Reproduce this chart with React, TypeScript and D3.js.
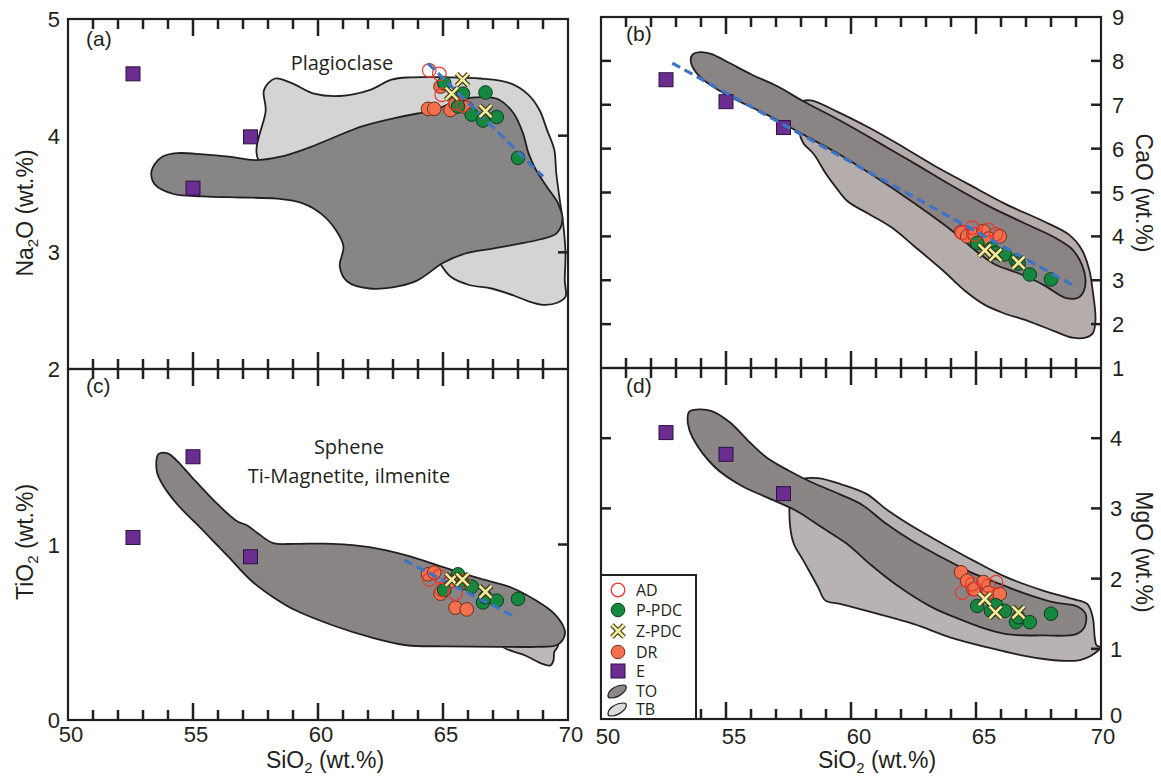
import React from 'react';
import * as d3 from 'd3';

type Pt = [number, number];

// ---------- Sample data (SiO2 vs oxides, wt.%) ----------
// E
const eSiO2 = [52.6, 55.0, 57.3];
const eNa2O = [4.53, 3.55, 3.99];
const eCaO = [7.57, 7.07, 6.48];
const eTiO2 = [1.04, 1.5, 0.93];
const eMgO = [4.08, 3.77, 3.21];
// P-PDC
const pSiO2 = [65.05, 65.6, 65.8, 66.15, 66.6, 66.7, 67.15, 68.0];
const pNa2O = [4.45, 4.25, 4.36, 4.18, 4.13, 4.37, 4.16, 3.81];
const pCaO = [3.85, 3.72, 3.62, 3.59, 3.45, 3.38, 3.13, 3.02];
const pTiO2 = [0.74, 0.83, 0.78, 0.76, 0.67, 0.7, 0.68, 0.69];
const pMgO = [1.61, 1.54, 1.62, 1.54, 1.38, 1.45, 1.38, 1.5];
// DR
const drSiO2 = [64.4, 64.65, 64.9, 65.3, 65.5, 65.95];
const drNa2O = [4.23, 4.23, 4.42, 4.22, 4.27, 4.24];
const drCaO = [4.1, 4.0, 4.05, 4.12, 3.95, 4.0];
const drTiO2 = [0.83, 0.84, 0.72, 0.79, 0.64, 0.63];
const drMgO = [2.09, 1.97, 1.85, 1.95, 1.8, 1.78];
// AD
const adSiO2 = [64.45, 64.85, 64.95, 65.5, 65.8];
const adNa2O = [4.56, 4.53, 4.35, 4.28, 4.26];
const adCaO = [4.08, 4.2, 4.05, 4.15, 4.05];
const adTiO2 = [0.8, 0.82, 0.74, 0.72, 0.79];
const adMgO = [1.8, 1.92, 1.85, 1.9, 1.95];
// Z-PDC
const zSiO2 = [65.35, 65.78, 66.7];
const zNa2O = [4.36, 4.48, 4.21];
const zCaO = [3.68, 3.58, 3.4];
const zTiO2 = [0.8, 0.8, 0.73];
const zMgO = [1.71, 1.52, 1.52];

// trend lines
const trendNa2O: Pt[] = [[64.4, 4.62], [69.0, 3.65]];
const trendCaO: Pt[] = [[52.85, 7.95], [69.0, 2.85]];
const trendTiO2: Pt[] = [[63.45, 0.91], [67.85, 0.59]];

// ---------- TO / TB fields ----------
const tbNa2O: Pt[] = [
  [57.62, 3.79], [57.91, 4.22], [57.84, 4.39], [58.28, 4.49], [58.95, 4.45], [59.84, 4.36],
  [60.87, 4.34], [62.06, 4.39], [62.94, 4.48], [63.68, 4.5], [65.01, 4.5], [66.49, 4.49],
  [67.68, 4.45], [68.42, 4.35], [68.86, 4.22], [69.16, 4.05], [69.45, 3.88], [69.53, 3.68],
  [69.67, 3.45], [69.82, 3.22], [69.9, 2.99], [69.87, 2.76], [69.9, 2.62], [69.6, 2.57],
  [69.01, 2.55], [68.42, 2.58], [67.83, 2.63], [66.94, 2.69], [66.05, 2.72], [65.31, 2.79],
  [64.87, 2.91], [64.64, 3.02], [64.0, 3.25], [60.5, 3.55]
];
const toNa2O: Pt[] = [
  [53.33, 3.68], [53.48, 3.76], [53.77, 3.82], [54.36, 3.85], [55.4, 3.84], [56.43, 3.82],
  [57.47, 3.79], [58.51, 3.82], [59.54, 3.89], [60.58, 3.98], [61.76, 4.08], [63.06, 4.15],
  [63.98, 4.19], [64.57, 4.21], [65.01, 4.25], [65.75, 4.31], [66.64, 4.33], [67.23, 4.31],
  [67.83, 4.19], [68.2, 4.02], [68.42, 3.85], [68.71, 3.71], [69.16, 3.56], [69.6, 3.42],
  [69.78, 3.28], [69.53, 3.16], [68.86, 3.11], [67.97, 3.07], [66.94, 3.03], [65.9, 2.99],
  [65.01, 2.91], [63.98, 2.76], [63.24, 2.71], [62.06, 2.69], [61.17, 2.75], [60.87, 2.88],
  [61.02, 3.05], [60.72, 3.19], [60.13, 3.33], [59.39, 3.42], [58.36, 3.46], [56.88, 3.47],
  [55.4, 3.48], [54.22, 3.5], [53.48, 3.58]
];
const tbCaO: Pt[] = [
  [57.94, 7.04], [58.38, 7.1], [59.42, 6.85], [60.75, 6.47], [61.93, 6.09], [63.25, 5.64],
  [64.73, 5.18], [66.21, 4.73], [67.68, 4.35], [68.72, 4.04], [69.23, 3.7], [69.53, 3.24],
  [69.68, 2.71], [69.78, 2.11], [69.68, 1.8], [69.38, 1.69], [68.86, 1.69], [68.13, 1.84],
  [67.09, 2.07], [66.06, 2.26], [65.32, 2.45], [64.58, 2.75], [63.7, 3.21], [62.52, 3.78],
  [61.63, 4.2], [60.75, 4.5], [59.86, 4.8], [59.42, 5.1], [58.97, 5.45], [58.53, 5.86],
  [58.09, 6.13], [57.94, 6.35], [57.87, 6.89]
];
const toCaO: Pt[] = [
  [53.59, 7.99], [53.66, 8.14], [53.96, 8.2], [54.4, 8.16], [55.14, 7.95], [56.02, 7.69],
  [57.06, 7.42], [58.09, 7.08], [59.56, 6.64], [61.04, 6.16], [62.52, 5.67], [63.99, 5.17],
  [65.47, 4.7], [66.94, 4.3], [68.13, 3.98], [68.86, 3.7], [69.23, 3.36], [69.38, 3.02],
  [69.31, 2.75], [69.08, 2.6], [68.57, 2.6], [67.68, 2.9], [66.65, 3.17], [65.76, 3.36],
  [65.1, 3.62], [63.99, 4.15], [62.52, 4.76], [61.04, 5.33], [59.56, 5.86], [58.09, 6.32],
  [56.61, 6.78], [55.14, 7.19], [54.25, 7.5], [53.81, 7.73]
];
const tbTiO2: Pt[] = [
  [67.38, 0.42], [68.27, 0.369], [69.01, 0.318], [69.3, 0.311], [69.42, 0.341], [69.45, 0.388],
  [69.6, 0.426], [68.71, 0.511], [67.97, 0.473]
];
const toTiO2: Pt[] = [
  [53.62, 1.515], [53.99, 1.519], [54.36, 1.477], [54.96, 1.383], [55.84, 1.25], [56.73, 1.136],
  [57.17, 1.108], [57.62, 1.061], [58.21, 1.008], [59.1, 1.004], [60.58, 1.004], [62.06, 0.985],
  [63.54, 0.938], [65.01, 0.871], [66.49, 0.805], [67.68, 0.758], [68.71, 0.682], [69.45, 0.606],
  [69.87, 0.511], [69.82, 0.464], [69.53, 0.426], [68.71, 0.417], [67.23, 0.417], [65.01, 0.42],
  [63.54, 0.426], [62.06, 0.473], [60.58, 0.54], [59.1, 0.625], [58.21, 0.7], [57.32, 0.795],
  [56.43, 0.928], [55.4, 1.08], [54.36, 1.231], [53.77, 1.345], [53.55, 1.42]
];
const tbMgO: Pt[] = [
  [57.57, 3.14], [57.72, 3.33], [58.09, 3.42], [58.68, 3.43], [59.56, 3.35], [60.6, 3.21],
  [61.48, 2.97], [62.52, 2.73], [63.7, 2.49], [64.88, 2.26], [66.21, 2.02], [67.68, 1.83],
  [68.86, 1.71], [69.45, 1.64], [69.67, 1.45], [69.75, 1.16], [69.82, 1.05], [69.97, 1.02],
  [69.6, 0.9], [69.16, 0.84], [68.42, 0.83], [66.94, 0.9], [65.47, 1.02], [63.99, 1.16],
  [62.52, 1.35], [61.04, 1.5], [59.56, 1.64], [58.97, 1.69], [58.68, 1.88], [58.09, 2.26],
  [57.72, 2.49], [57.57, 2.73]
];
const toMgO: Pt[] = [
  [53.51, 4.37], [53.66, 4.4], [54.4, 4.39], [55.14, 4.23], [55.87, 3.97], [56.61, 3.73],
  [57.5, 3.54], [58.38, 3.38], [59.56, 3.2], [60.45, 3.05], [61.34, 2.8], [62.52, 2.52],
  [63.7, 2.29], [64.73, 2.1], [65.76, 1.95], [66.94, 1.79], [68.13, 1.66], [69.01, 1.61],
  [69.38, 1.5], [69.34, 1.31], [69.01, 1.21], [67.68, 1.19], [66.21, 1.21], [65.17, 1.31],
  [64.29, 1.43], [63.25, 1.59], [61.78, 1.92], [60.75, 2.21], [59.86, 2.49], [58.83, 2.73],
  [57.79, 2.97], [56.61, 3.16], [55.58, 3.33], [54.55, 3.59], [53.66, 4.01], [53.48, 4.2]
];

const xMajorLabels = [50, 55, 60, 65, 70];
const xTickValues = [51, 52, 53, 54, 55, 56, 57, 58, 59, 60, 61, 62, 63, 64, 65, 66, 67, 68, 69];

// ---------- styles ----------
const W = 1161;
const H = 782;
const NUM_FONT = "'Liberation Sans', Arial, Helvetica, sans-serif";
const TXT_FONT = "'Open Sans', 'Noto Sans', sans-serif";
const INK = '#231f20';
const C_GREEN = '#15873f';
const C_GREEN_S = '#0c3d1d';
const C_ORANGE = '#f3704f';
const C_ORANGE_S = '#6e2c1c';
const C_PURPLE = '#6b2d8f';
const C_PURPLE_S = '#2b1240';
const C_AD = '#e8382f';
const C_Z = '#f4ee98';
const C_Z_S = '#3d3a26';
const C_TREND = '#3d74c6';

interface PanelCfg {
  key: string;
  x0: number; x1: number; yTop: number; yBot: number; yDomain: [number, number];
  toFill: string; tbFill: string; to: Pt[]; tb: Pt[];
  e: number[]; p: number[]; dr: number[]; ad: number[]; z: number[];
  trend?: Pt[];
  label: string; labelX: number; labelY: number;
  yTicks: number[]; leftTicks: boolean;
}

const panels: PanelCfg[] = [
  {
    key: 'a', x0: 68, x1: 568, yTop: 19, yBot: 369, yDomain: [2, 5],
    toFill: '#878585', tbFill: '#d4d4d4', to: toNa2O, tb: tbNa2O,
    e: eNa2O, p: pNa2O, dr: drNa2O, ad: adNa2O, z: zNa2O, trend: trendNa2O,
    label: '(a)', labelX: 86, labelY: 46, yTicks: [3, 4], leftTicks: false,
  },
  {
    key: 'b', x0: 601, x1: 1101, yTop: 17, yBot: 368, yDomain: [1, 9],
    toFill: '#8b8484', tbFill: '#b5adac', to: toCaO, tb: tbCaO,
    e: eCaO, p: pCaO, dr: drCaO, ad: adCaO, z: zCaO, trend: trendCaO,
    label: '(b)', labelX: 626, labelY: 41, yTicks: [2, 3, 4, 5, 6, 7, 8], leftTicks: true,
  },
  {
    key: 'c', x0: 68, x1: 568, yTop: 369, yBot: 720, yDomain: [0, 2],
    toFill: '#8a8585', tbFill: '#bdb8b8', to: toTiO2, tb: tbTiO2,
    e: eTiO2, p: pTiO2, dr: drTiO2, ad: adTiO2, z: zTiO2, trend: trendTiO2,
    label: '(c)', labelX: 86, labelY: 393, yTicks: [1], leftTicks: false,
  },
  {
    key: 'd', x0: 601, x1: 1101, yTop: 368, yBot: 719, yDomain: [0, 5],
    toFill: '#8b8686', tbFill: '#b9b2b2', to: toMgO, tb: tbMgO,
    e: eMgO, p: pMgO, dr: drMgO, ad: adMgO, z: zMgO,
    label: '(d)', labelX: 626, labelY: 393, yTicks: [1, 2, 3, 4], leftTicks: true,
  },
];

function XMark({ x, y, s = 6 }: { x: number; y: number; s?: number }) {
  const d = `M${x - s},${y - s}L${x + s},${y + s}M${x - s},${y + s}L${x + s},${y - s}`;
  return (
    <g>
      <path d={d} stroke={C_Z_S} strokeWidth={5} strokeLinecap="butt" fill="none" />
      <path d={d} stroke={C_Z} strokeWidth={2.6} strokeLinecap="butt" fill="none" />
    </g>
  );
}

function Panel({ cfg }: { cfg: PanelCfg }) {
  const xs = d3.scaleLinear().domain([50, 70]).range([cfg.x0, cfg.x1]);
  const ys = d3.scaleLinear().domain(cfg.yDomain).range([cfg.yBot, cfg.yTop]);
  const field = d3
    .line<Pt>()
    .x((d) => xs(d[0]))
    .y((d) => ys(d[1]))
    .curve(d3.curveCatmullRomClosed.alpha(0.5));
  const straight = d3
    .line<Pt>()
    .x((d) => xs(d[0]))
    .y((d) => ys(d[1]));

  return (
    <g>
      <path d={field(cfg.tb) || ''} fill={cfg.tbFill} stroke={INK} strokeWidth={1.8} />
      <path d={field(cfg.to) || ''} fill={cfg.toFill} stroke={INK} strokeWidth={1.8} />
      {cfg.e.map((v, i) => (
        <rect key={'e' + i} x={xs(eSiO2[i]) - 7} y={ys(v) - 7} width={14} height={14}
          fill={C_PURPLE} stroke={C_PURPLE_S} strokeWidth={1} />
      ))}
      {cfg.dr.map((v, i) => (
        <circle key={'dr' + i} cx={xs(drSiO2[i])} cy={ys(v)} r={6.8}
          fill={C_ORANGE} stroke={C_ORANGE_S} strokeWidth={1} />
      ))}
      {cfg.p.map((v, i) => (
        <circle key={'p' + i} cx={xs(pSiO2[i])} cy={ys(v)} r={6.8}
          fill={C_GREEN} stroke={C_GREEN_S} strokeWidth={1} />
      ))}
      {cfg.ad.map((v, i) => (
        <circle key={'ad' + i} cx={xs(adSiO2[i])} cy={ys(v)} r={6.8}
          fill="none" stroke={C_AD} strokeWidth={1.2} />
      ))}
      {cfg.trend && (
        <path d={straight(cfg.trend) || ''} stroke={C_TREND} strokeWidth={3.2}
          strokeDasharray="9,5" fill="none" />
      )}
      {cfg.z.map((v, i) => (
        <XMark key={'z' + i} x={xs(zSiO2[i])} y={ys(v)} />
      ))}
      <rect x={cfg.x0} y={cfg.yTop} width={cfg.x1 - cfg.x0} height={cfg.yBot - cfg.yTop}
        fill="none" stroke={INK} strokeWidth={2.2} />
      {xTickValues.map((v) => {
        const len = v % 5 === 0 ? 17 : 10;
        const x = xs(v);
        return (
          <React.Fragment key={'xt' + v}>
            <rect x={x - 1.25} y={cfg.yTop} width={2.5} height={len} fill={INK} />
            <rect x={x - 1.25} y={cfg.yBot - len} width={2.5} height={len} fill={INK} />
          </React.Fragment>
        );
      })}
      {cfg.yTicks.map((v) => {
        const y = ys(v);
        return (
          <React.Fragment key={'yt' + v}>
            <rect x={cfg.x1 - 10} y={y - 1.25} width={10} height={2.5} fill={INK} />
            {cfg.leftTicks && <rect x={cfg.x0} y={y - 1.25} width={10} height={2.5} fill={INK} />}
          </React.Fragment>
        );
      })}
      <text x={cfg.labelX} y={cfg.labelY} fontFamily={NUM_FONT} fontSize={21} fill={INK}>
        {cfg.label}
      </text>
    </g>
  );
}

export default function App() {
  const pa = panels[0];
  const pb = panels[1];
  const pc = panels[2];
  const pd = panels[3];
  const ysA = d3.scaleLinear().domain(pa.yDomain).range([pa.yBot, pa.yTop]);
  const ysB = d3.scaleLinear().domain(pb.yDomain).range([pb.yBot, pb.yTop]);
  const ysC = d3.scaleLinear().domain(pc.yDomain).range([pc.yBot, pc.yTop]);
  const ysD = d3.scaleLinear().domain(pd.yDomain).range([pd.yBot, pd.yTop]);
  const xsL = d3.scaleLinear().domain([50, 70]).range([pc.x0, pc.x1]);
  const xsR = d3.scaleLinear().domain([50, 70]).range([pd.x0, pd.x1]);
  const num = { fontFamily: NUM_FONT, fontSize: 22, fill: INK } as const;
  const title = { fontFamily: NUM_FONT, fontSize: 23, fill: INK } as const;
  const leg = { fontFamily: TXT_FONT, fontSize: 16, fill: INK } as const;

  const legendRows = [
    { name: 'AD', y: 590 },
    { name: 'P-PDC', y: 610 },
    { name: 'Z-PDC', y: 631 },
    { name: 'DR', y: 652 },
    { name: 'E', y: 671 },
    { name: 'TO', y: 691 },
    { name: 'TB', y: 709 },
  ];
  const lx = 618;
  const leaf = 'M-9,5C-9,-1 -1,-6 7,-6C10,-6 10,-2 7,1C3,5 -2,7 -6,7C-8,7 -9,6 -9,5Z';

  return (
    <div style={{ position: 'absolute', left: 0, top: 0, width: W, height: H, background: '#fff' }}>
      <svg width={W} height={H} viewBox={`0 0 ${W} ${H}`} style={{ display: 'block' }}>
        <rect width={W} height={H} fill="#fff" />
        {panels.map((p) => (
          <Panel key={p.key} cfg={p} />
        ))}

        {/* left y labels */}
        {[5, 4, 3, 2].map((v) => (
          <text key={'ya' + v} x={60} y={ysA(v) + 8} textAnchor="end" {...num}>{v}</text>
        ))}
        {[1, 0].map((v) => (
          <text key={'yc' + v} x={60} y={ysC(v) + 8} textAnchor="end" {...num}>{v}</text>
        ))}
        {/* right y labels */}
        {[9, 8, 7, 6, 5, 4, 3, 2, 1].map((v) => (
          <text key={'yb' + v} x={1112} y={ysB(v) + 8} textAnchor="start" {...num}>{v}</text>
        ))}
        {[4, 3, 2, 1, 0].map((v) => (
          <text key={'yd' + v} x={1110} y={ysD(v) + (v === 0 ? 4 : 8)} textAnchor="start" {...num}>{v}</text>
        ))}
        {/* x labels */}
        {xMajorLabels.map((v) => (
          <text key={'xl' + v} x={xsL(v) + 3} y={742} textAnchor="middle" {...num}>{v}</text>
        ))}
        {xMajorLabels.map((v) => (
          <text key={'xr' + v} x={xsR(v) + (v === 50 ? 7 : v === 70 ? 2 : 8)} y={744} textAnchor="middle" {...num}>{v}</text>
        ))}

        {/* axis titles */}
        <text x={325} y={768} textAnchor="middle" {...title}>
          SiO<tspan fontSize={15} dy={5}>2</tspan><tspan dy={-5}> (wt.%)</tspan>
        </text>
        <text x={877} y={768} textAnchor="middle" {...title}>
          SiO<tspan fontSize={15} dy={5}>2</tspan><tspan dy={-5}> (wt.%)</tspan>
        </text>
        <text transform="translate(33,213) rotate(-90)" textAnchor="middle" {...title}>
          Na<tspan fontSize={15} dy={5}>2</tspan><tspan dy={-5}>O (wt.%)</tspan>
        </text>
        <text transform="translate(33,542) rotate(-90)" textAnchor="middle" {...title}>
          TiO<tspan fontSize={15} dy={5}>2</tspan><tspan dy={-5}> (wt.%)</tspan>
        </text>
        <text transform="translate(1136,193) rotate(90)" textAnchor="middle" {...title}>
          CaO (wt.%)
        </text>
        <text transform="translate(1136,552) rotate(90)" textAnchor="middle" {...title}>
          MgO (wt.%)
        </text>

        {/* annotations */}
        <text x={342} y={70} textAnchor="middle" fontFamily={TXT_FONT} fontSize={20} fill={INK}>
          Plagioclase
        </text>
        <text x={349} y={454} textAnchor="middle" fontFamily={TXT_FONT} fontSize={20} fill={INK}>
          Sphene
        </text>
        <text x={349} y={483} textAnchor="middle" fontFamily={TXT_FONT} fontSize={20} fill={INK}>
          Ti-Magnetite, ilmenite
        </text>

        {/* legend */}
        <rect x={601} y={575} width={95} height={144} fill="#fff" stroke={INK} strokeWidth={2} />
        <circle cx={lx} cy={legendRows[0].y} r={6.8} fill="none" stroke={C_AD} strokeWidth={1.3} />
        <circle cx={lx} cy={legendRows[1].y} r={6.8} fill={C_GREEN} stroke={C_GREEN_S} strokeWidth={1} />
        <XMark x={lx} y={legendRows[2].y} />
        <circle cx={lx} cy={legendRows[3].y} r={6.8} fill={C_ORANGE} stroke={C_ORANGE_S} strokeWidth={1} />
        <rect x={lx - 7} y={legendRows[4].y - 7} width={14} height={14} fill={C_PURPLE} stroke={C_PURPLE_S} strokeWidth={1} />
        <path d={leaf} transform={`translate(${lx - 1},${legendRows[5].y})`} fill="#8c8888" stroke={INK} strokeWidth={1.2} />
        <path d={leaf} transform={`translate(${lx - 1},${legendRows[6].y})`} fill="#dcdcdc" stroke={INK} strokeWidth={1.2} />
        {legendRows.map((r) => (
          <text key={r.name} x={636} y={r.y + 6} {...leg}>{r.name}</text>
        ))}
      </svg>
    </div>
  );
}
